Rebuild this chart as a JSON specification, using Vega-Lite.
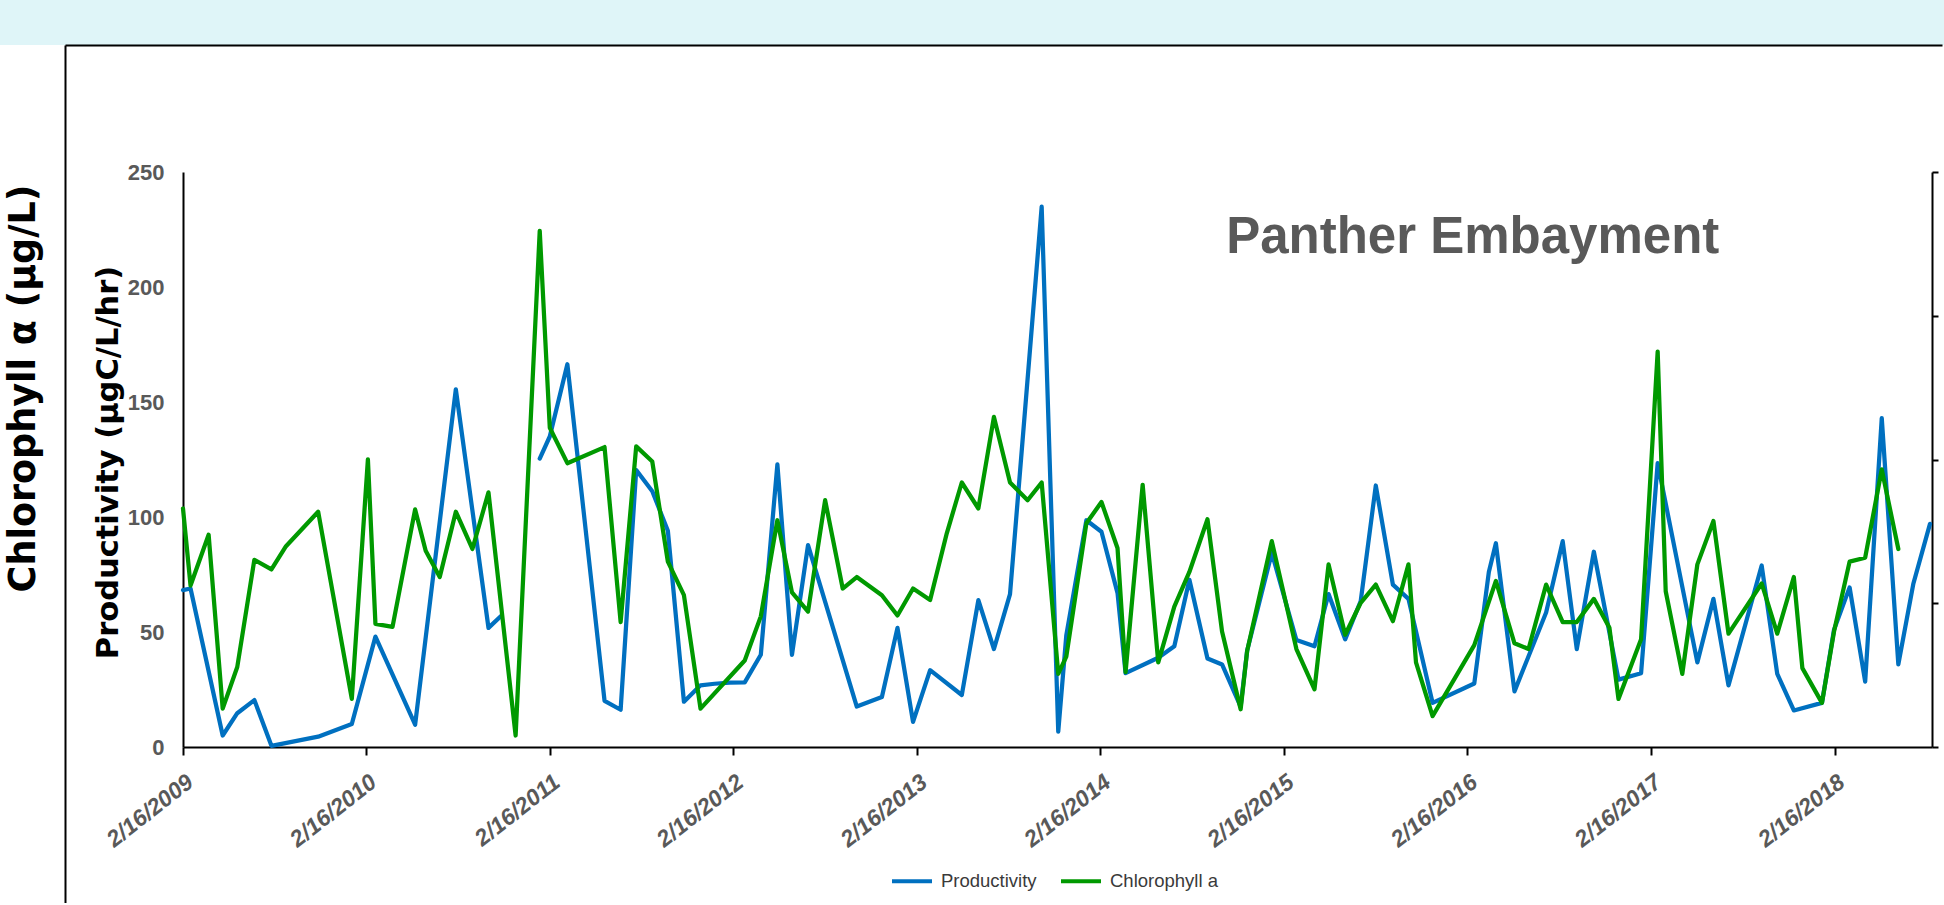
{
  "$schema": "https://vega.github.io/schema/vega-lite/v6.json",
  "padding": 0,
  "background": "white",
  "bounds": "flush",
  "spacing": 0,
  "config": {
    "view": {"stroke": null},
    "font": "Liberation Sans",
    "axis": {"grid": false}
  },
  "datasets": {
    "productivity": [
      {"date": "2009-02-16", "value": 68.2},
      {"date": "2009-03-03", "value": 68.9},
      {"date": "2009-05-06", "value": 5.0},
      {"date": "2009-06-04", "value": 14.7},
      {"date": "2009-07-08", "value": 20.4},
      {"date": "2009-08-11", "value": 0.5},
      {"date": "2009-11-12", "value": 4.5},
      {"date": "2010-01-18", "value": 10.0},
      {"date": "2010-03-06", "value": 48.0},
      {"date": "2010-05-24", "value": 9.7},
      {"date": "2010-08-13", "value": 155.5},
      {"date": "2010-10-17", "value": 51.8},
      {"date": "2010-11-12", "value": 57.2},
      {"date": "2010-12-10", "value": null},
      {"date": "2011-01-27", "value": 125.4},
      {"date": "2011-02-16", "value": 135.0},
      {"date": "2011-03-23", "value": 166.4},
      {"date": "2011-06-05", "value": 20.1},
      {"date": "2011-07-07", "value": 16.2},
      {"date": "2011-08-07", "value": 120.4},
      {"date": "2011-09-08", "value": 111.2},
      {"date": "2011-10-09", "value": 94.0},
      {"date": "2011-11-10", "value": 19.7},
      {"date": "2011-12-13", "value": 26.8},
      {"date": "2012-01-10", "value": 27.5},
      {"date": "2012-02-09", "value": 28.0},
      {"date": "2012-03-10", "value": 28.1},
      {"date": "2012-04-11", "value": 40.1},
      {"date": "2012-05-14", "value": 122.9},
      {"date": "2012-06-12", "value": 40.1},
      {"date": "2012-07-14", "value": 87.8},
      {"date": "2012-10-19", "value": 17.6},
      {"date": "2012-12-08", "value": 21.7},
      {"date": "2013-01-08", "value": 51.8},
      {"date": "2013-02-08", "value": 10.9},
      {"date": "2013-03-14", "value": 33.4},
      {"date": "2013-05-16", "value": 22.6},
      {"date": "2013-06-18", "value": 63.9},
      {"date": "2013-07-19", "value": 42.6},
      {"date": "2013-08-20", "value": 66.5},
      {"date": "2013-10-22", "value": 234.9},
      {"date": "2013-11-24", "value": 6.7},
      {"date": "2013-12-10", "value": 48.5},
      {"date": "2014-01-19", "value": 98.6},
      {"date": "2014-02-18", "value": 93.6},
      {"date": "2014-03-22", "value": 66.9},
      {"date": "2014-04-07", "value": 32.1},
      {"date": "2014-06-11", "value": 38.8},
      {"date": "2014-07-13", "value": 43.8},
      {"date": "2014-08-12", "value": 72.7},
      {"date": "2014-09-17", "value": 38.5},
      {"date": "2014-10-16", "value": 35.9},
      {"date": "2014-11-22", "value": 17.6},
      {"date": "2014-12-05", "value": 42.0},
      {"date": "2015-01-23", "value": 84.4},
      {"date": "2015-03-13", "value": 46.5},
      {"date": "2015-04-18", "value": 43.8},
      {"date": "2015-05-16", "value": 66.5},
      {"date": "2015-06-18", "value": 46.8},
      {"date": "2015-07-19", "value": 63.5},
      {"date": "2015-08-18", "value": 113.7},
      {"date": "2015-09-21", "value": 70.6},
      {"date": "2015-10-22", "value": 64.4},
      {"date": "2015-12-09", "value": 19.2},
      {"date": "2016-03-01", "value": 27.6},
      {"date": "2016-03-30", "value": 76.1},
      {"date": "2016-04-13", "value": 88.6},
      {"date": "2016-05-20", "value": 24.2},
      {"date": "2016-07-22", "value": 58.5},
      {"date": "2016-08-24", "value": 89.5},
      {"date": "2016-09-21", "value": 42.6},
      {"date": "2016-10-25", "value": 84.9},
      {"date": "2016-12-13", "value": 29.3},
      {"date": "2017-01-27", "value": 32.1},
      {"date": "2017-03-01", "value": 123.4},
      {"date": "2017-05-19", "value": 36.8},
      {"date": "2017-06-20", "value": 64.4},
      {"date": "2017-07-20", "value": 26.8},
      {"date": "2017-09-24", "value": 78.9},
      {"date": "2017-10-25", "value": 31.8},
      {"date": "2017-11-27", "value": 15.9},
      {"date": "2018-01-22", "value": 19.2},
      {"date": "2018-02-15", "value": 51.0},
      {"date": "2018-03-18", "value": 69.4},
      {"date": "2018-04-18", "value": 28.4},
      {"date": "2018-05-21", "value": 143.0},
      {"date": "2018-06-23", "value": 35.9},
      {"date": "2018-07-23", "value": 71.1},
      {"date": "2018-08-25", "value": 97.0}
    ],
    "chlorophyll": [
      {"date": "2009-02-16", "value": 103.7},
      {"date": "2009-03-03", "value": 70.2},
      {"date": "2009-04-08", "value": 92.3},
      {"date": "2009-05-06", "value": 16.7},
      {"date": "2009-06-04", "value": 34.8},
      {"date": "2009-07-08", "value": 81.4},
      {"date": "2009-08-11", "value": 77.2},
      {"date": "2009-09-09", "value": 87.3},
      {"date": "2009-11-12", "value": 102.3},
      {"date": "2010-01-18", "value": 20.9},
      {"date": "2010-02-19", "value": 125.1},
      {"date": "2010-03-06", "value": 53.5},
      {"date": "2010-04-09", "value": 52.2},
      {"date": "2010-05-24", "value": 103.3},
      {"date": "2010-06-14", "value": 85.3},
      {"date": "2010-07-12", "value": 73.9},
      {"date": "2010-08-13", "value": 102.3},
      {"date": "2010-09-15", "value": 86.1},
      {"date": "2010-10-17", "value": 110.7},
      {"date": "2010-12-10", "value": 5.0},
      {"date": "2011-01-27", "value": 224.4},
      {"date": "2011-02-16", "value": 138.8},
      {"date": "2011-03-23", "value": 123.4},
      {"date": "2011-06-05", "value": 130.4},
      {"date": "2011-07-07", "value": 54.3},
      {"date": "2011-08-07", "value": 130.7},
      {"date": "2011-09-08", "value": 124.1},
      {"date": "2011-10-09", "value": 80.6},
      {"date": "2011-11-10", "value": 66.0},
      {"date": "2011-12-13", "value": 16.7},
      {"date": "2012-03-10", "value": 37.6},
      {"date": "2012-04-11", "value": 56.8},
      {"date": "2012-05-14", "value": 98.6},
      {"date": "2012-06-12", "value": 67.2},
      {"date": "2012-07-14", "value": 58.9},
      {"date": "2012-08-17", "value": 107.3},
      {"date": "2012-09-21", "value": 68.9},
      {"date": "2012-10-19", "value": 73.9},
      {"date": "2012-12-08", "value": 66.0},
      {"date": "2013-01-08", "value": 57.2},
      {"date": "2013-02-08", "value": 68.9},
      {"date": "2013-03-14", "value": 63.9},
      {"date": "2013-04-16", "value": 92.8},
      {"date": "2013-05-16", "value": 115.0},
      {"date": "2013-06-18", "value": 103.7},
      {"date": "2013-07-19", "value": 143.5},
      {"date": "2013-08-20", "value": 115.0},
      {"date": "2013-09-24", "value": 107.3},
      {"date": "2013-10-22", "value": 115.0},
      {"date": "2013-11-24", "value": 31.8},
      {"date": "2013-12-10", "value": 39.3},
      {"date": "2014-01-19", "value": 97.3},
      {"date": "2014-02-18", "value": 106.5},
      {"date": "2014-03-22", "value": 86.4},
      {"date": "2014-04-07", "value": 32.6},
      {"date": "2014-05-11", "value": 114.0},
      {"date": "2014-06-11", "value": 36.8},
      {"date": "2014-07-13", "value": 61.0},
      {"date": "2014-08-12", "value": 76.1},
      {"date": "2014-09-17", "value": 99.0},
      {"date": "2014-10-16", "value": 50.2},
      {"date": "2014-11-22", "value": 16.4},
      {"date": "2014-12-05", "value": 41.8},
      {"date": "2015-01-23", "value": 89.5},
      {"date": "2015-03-13", "value": 42.6},
      {"date": "2015-04-18", "value": 25.1},
      {"date": "2015-05-16", "value": 79.4},
      {"date": "2015-06-18", "value": 48.8},
      {"date": "2015-07-19", "value": 62.7},
      {"date": "2015-08-18", "value": 70.6},
      {"date": "2015-09-21", "value": 54.7},
      {"date": "2015-10-22", "value": 79.4},
      {"date": "2015-11-06", "value": 36.8},
      {"date": "2015-12-09", "value": 13.4},
      {"date": "2016-03-01", "value": 44.3},
      {"date": "2016-04-13", "value": 72.2},
      {"date": "2016-05-20", "value": 45.1},
      {"date": "2016-06-17", "value": 42.6},
      {"date": "2016-07-22", "value": 70.6},
      {"date": "2016-08-24", "value": 54.3},
      {"date": "2016-09-21", "value": 54.3},
      {"date": "2016-10-25", "value": 64.4},
      {"date": "2016-11-25", "value": 51.8},
      {"date": "2016-12-13", "value": 20.9},
      {"date": "2017-01-27", "value": 46.8},
      {"date": "2017-03-01", "value": 171.9},
      {"date": "2017-03-17", "value": 67.7},
      {"date": "2017-04-19", "value": 31.8},
      {"date": "2017-05-19", "value": 79.4},
      {"date": "2017-06-20", "value": 98.3},
      {"date": "2017-07-20", "value": 49.3},
      {"date": "2017-09-24", "value": 71.1},
      {"date": "2017-10-25", "value": 49.3},
      {"date": "2017-11-27", "value": 73.9},
      {"date": "2017-12-14", "value": 34.3},
      {"date": "2018-01-22", "value": 19.2},
      {"date": "2018-02-15", "value": 50.2},
      {"date": "2018-03-18", "value": 80.6},
      {"date": "2018-04-18", "value": 82.3},
      {"date": "2018-05-21", "value": 120.7},
      {"date": "2018-06-23", "value": 86.1}
    ]
  },
  "vconcat": [
    {
      "width": 1944,
      "height": 45,
      "view": {"fill": "#DFF5F8", "stroke": null},
      "data": {"values": []},
      "mark": "point"
    },
    {
      "bounds": "flush",
      "spacing": 0,
      "resolve": {"scale": {"x": "independent", "y": "independent"}},
      "hconcat": [
        {
          "width": 65,
          "height": 858,
          "data": {"values": []},
          "mark": "point",
          "encoding": {
            "y": {
              "field": "v",
              "type": "quantitative",
              "scale": {"domain": [0, 1]},
              "axis": {
                "orient": "right",
                "domain": true,
                "domainColor": "#000000",
                "domainWidth": 2,
                "ticks": false,
                "labels": false,
                "grid": false,
                "title": "Chlorophyll α (µg/L)",
                "titleFont": "DejaVu Sans",
                "titleFontWeight": "bold",
                "titleFontSize": 36.5,
                "titleColor": "#000000",
                "titleAngle": 270,
                "titleAlign": "center",
                "titleBaseline": "alphabetic",
                "titleX": -31,
                "titleY": 343
              }
            }
          }
        },
        {
          "bounds": "flush",
          "spacing": 0,
          "resolve": {"scale": {"x": "independent", "y": "independent"}},
          "vconcat": [
            {
              "width": 1877,
              "height": 127,
              "data": {"values": []},
              "mark": "point",
              "encoding": {
                "x": {
                  "field": "u",
                  "type": "quantitative",
                  "scale": {"domain": [0, 1]},
                  "axis": {
                    "orient": "top",
                    "domainColor": "#000000",
                    "domainWidth": 2,
                    "ticks": false,
                    "labels": false,
                    "grid": false,
                    "title": null
                  }
                }
              }
            },
            {
              "bounds": "flush",
              "spacing": 117,
              "resolve": {"scale": {"x": "independent", "y": "independent"}},
              "hconcat": [
                {
                  "width": 1,
                  "height": 575,
                  "data": {"values": []},
                  "mark": "point"
                },
                {
                  "width": 1749,
                  "height": 575,
                  "resolve": {"scale": {"y": "independent"}},
                  "layer": [
                    {
                      "data": {"name": "productivity"},
                      "mark": {
                        "type": "line",
                        "strokeWidth": 4.25,
                        "strokeJoin": "round",
                        "strokeCap": "round",
                        "invalid": "break-paths-show-domains"
                      },
                      "encoding": {
                        "x": {
                          "field": "date",
                          "type": "temporal",
                          "scale": {
                            "type": "utc",
                            "domain": [
                              {"year": 2009, "month": 2, "date": 16, "utc": true},
                              {"year": 2018, "month": 8, "date": 29, "utc": true}
                            ]
                          },
                          "axis": {
                            "values": [
                              {"year": 2009, "month": 2, "date": 16, "utc": true},
                              {"year": 2010, "month": 2, "date": 16, "utc": true},
                              {"year": 2011, "month": 2, "date": 16, "utc": true},
                              {"year": 2012, "month": 2, "date": 16, "utc": true},
                              {"year": 2013, "month": 2, "date": 16, "utc": true},
                              {"year": 2014, "month": 2, "date": 16, "utc": true},
                              {"year": 2015, "month": 2, "date": 16, "utc": true},
                              {"year": 2016, "month": 2, "date": 16, "utc": true},
                              {"year": 2017, "month": 2, "date": 16, "utc": true},
                              {"year": 2018, "month": 2, "date": 16, "utc": true}
                            ],
                            "labelExpr": "utcFormat(datum.value, '%-m/%-d/%Y')",
                            "labelAngle": -38,
                            "labelAlign": "right",
                            "labelBaseline": "middle",
                            "labelPadding": 24,
                            "labelOffset": 7,
                            "labelFont": "Liberation Sans",
                            "labelFontWeight": "bold",
                            "labelFontStyle": "italic",
                            "labelFontSize": 23,
                            "labelColor": "#595959",
                            "labelOverlap": false,
                            "labelFlush": false,
                            "labelBound": false,
                            "tickColor": "#000000",
                            "tickSize": 8,
                            "tickWidth": 2,
                            "domainColor": "#000000",
                            "domainWidth": 2,
                            "grid": false,
                            "title": null
                          }
                        },
                        "y": {
                          "field": "value",
                          "type": "quantitative",
                          "scale": {"domain": [0, 250]},
                          "axis": {
                            "orient": "left",
                            "values": [0, 50, 100, 150, 200, 250],
                            "ticks": false,
                            "domainColor": "#000000",
                            "domainWidth": 2,
                            "labelFont": "Liberation Sans",
                            "labelFontWeight": "bold",
                            "labelFontSize": 22,
                            "labelColor": "#595959",
                            "labelPadding": 19,
                            "grid": false,
                            "title": "Productivity (µgC/L/hr)",
                            "titleFont": "DejaVu Sans",
                            "titleFontWeight": "bold",
                            "titleFontSize": 30.5,
                            "titleColor": "#000000",
                            "titleAngle": 270,
                            "titleAlign": "center",
                            "titleBaseline": "alphabetic",
                            "titleX": -66,
                            "titleY": 290
                          }
                        },
                        "color": {
                          "datum": "Productivity",
                          "type": "nominal",
                          "scale": {
                            "domain": ["Productivity", "Chlorophyll a"],
                            "range": ["#0070C0", "#009900"]
                          },
                          "legend": {
                            "orient": "none",
                            "legendX": 890,
                            "legendY": 859,
                            "direction": "horizontal",
                            "title": null,
                            "symbolType": "stroke",
                            "symbolStrokeWidth": 4,
                            "symbolSize": 1600,
                            "labelFont": "Liberation Sans",
                            "labelFontSize": 18.5,
                            "labelColor": "#3a3a3a",
                            "labelOffset": 7,
                            "columnPadding": 16,
                            "padding": 0
                          }
                        }
                      }
                    },
                    {
                      "data": {"name": "chlorophyll"},
                      "mark": {
                        "type": "line",
                        "strokeWidth": 4.25,
                        "strokeJoin": "round",
                        "strokeCap": "round"
                      },
                      "encoding": {
                        "x": {"field": "date", "type": "temporal"},
                        "y": {
                          "field": "value",
                          "type": "quantitative",
                          "scale": {"domain": [0, 250]},
                          "axis": {
                            "orient": "right",
                            "values": [0, 62.5, 125, 187.5, 250],
                            "labels": false,
                            "title": null,
                            "ticks": true,
                            "tickSize": 6,
                            "tickWidth": 2,
                            "tickColor": "#000000",
                            "domainColor": "#000000",
                            "domainWidth": 2,
                            "grid": false
                          }
                        },
                        "color": {"datum": "Chlorophyll a", "type": "nominal"}
                      }
                    },
                    {
                      "data": {"values": [{"label": "Panther Embayment"}]},
                      "mark": {
                        "type": "text",
                        "font": "Liberation Sans",
                        "fontWeight": "bold",
                        "fontSize": 51,
                        "color": "#595959",
                        "align": "center",
                        "baseline": "alphabetic"
                      },
                      "encoding": {
                        "text": {"field": "label"},
                        "x": {"datum": {"year": 2016, "month": 2, "date": 27, "utc": true}, "type": "temporal"},
                        "y": {"datum": 215, "type": "quantitative", "scale": {"domain": [0, 250]}, "axis": null}
                      }
                    }
                  ]
                }
              ]
            }
          ]
        }
      ]
    }
  ]
}
